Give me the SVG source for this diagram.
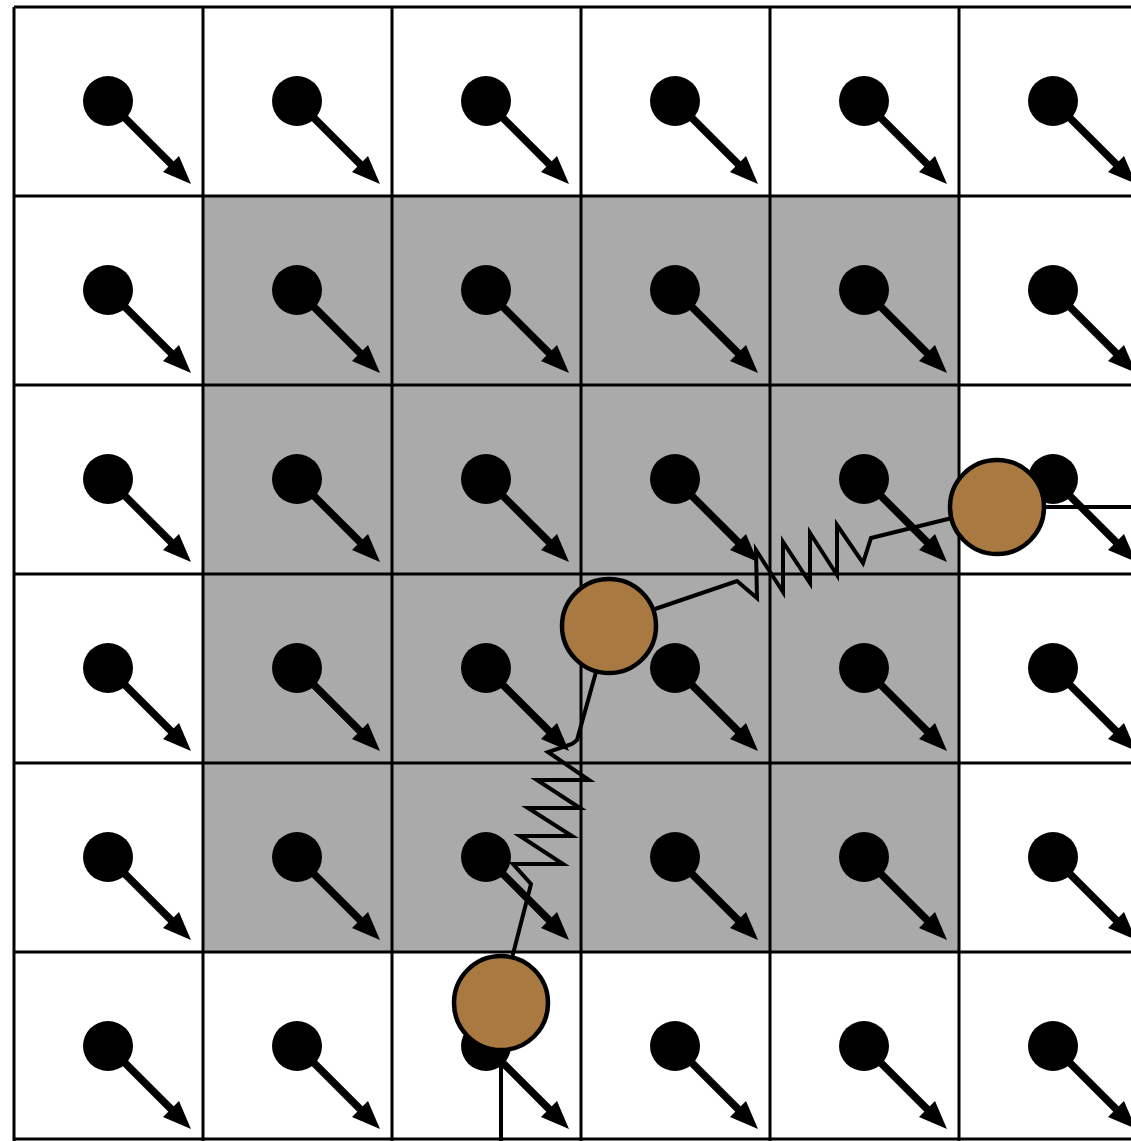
<svg xmlns="http://www.w3.org/2000/svg" xmlns:xlink="http://www.w3.org/1999/xlink" width="1131" height="1141" viewBox="0 0 1131 1141">
<style>
.grid{stroke:#000;stroke-width:3;fill:none}
.wire{stroke:#000;stroke-width:4;fill:none;stroke-linejoin:miter;stroke-miterlimit:10}
.mass{fill:#a87940;stroke:#000;stroke-width:4.5}
</style>
<defs>
<g id="spin">
<circle cx="0" cy="0" r="25" fill="#000"/>
<line x1="0" y1="0" x2="66" y2="66" stroke="#000" stroke-width="7.5"/>
<polygon points="83,83 55,71 71,55" fill="#000"/>
</g>
</defs>
<rect x="0" y="0" width="1131" height="1141" fill="#fff"/>
<rect id="region" x="203" y="196" width="756" height="756" fill="#aaaaaa"/>
<g id="grid" class="grid">
<line x1="14" y1="7" x2="1131" y2="7"/>
<line x1="14" y1="196" x2="1131" y2="196"/>
<line x1="14" y1="385" x2="1131" y2="385"/>
<line x1="14" y1="574" x2="1131" y2="574"/>
<line x1="14" y1="763" x2="1131" y2="763"/>
<line x1="14" y1="952" x2="1131" y2="952"/>
<line x1="14" y1="1139" x2="1131" y2="1139"/>
<line x1="14" y1="7" x2="14" y2="1141"/>
<line x1="203" y1="7" x2="203" y2="1141"/>
<line x1="392" y1="7" x2="392" y2="1141"/>
<line x1="581" y1="7" x2="581" y2="1141"/>
<line x1="770" y1="7" x2="770" y2="1141"/>
<line x1="959" y1="7" x2="959" y2="1141"/>
</g>
<g id="spins">
<use xlink:href="#spin" x="108" y="101"/><use xlink:href="#spin" x="297" y="101"/><use xlink:href="#spin" x="486" y="101"/><use xlink:href="#spin" x="675" y="101"/><use xlink:href="#spin" x="864" y="101"/><use xlink:href="#spin" x="1053" y="101"/>
<use xlink:href="#spin" x="108" y="290"/><use xlink:href="#spin" x="297" y="290"/><use xlink:href="#spin" x="486" y="290"/><use xlink:href="#spin" x="675" y="290"/><use xlink:href="#spin" x="864" y="290"/><use xlink:href="#spin" x="1053" y="290"/>
<use xlink:href="#spin" x="108" y="479"/><use xlink:href="#spin" x="297" y="479"/><use xlink:href="#spin" x="486" y="479"/><use xlink:href="#spin" x="675" y="479"/><use xlink:href="#spin" x="864" y="479"/><use xlink:href="#spin" x="1053" y="479"/>
<use xlink:href="#spin" x="108" y="668"/><use xlink:href="#spin" x="297" y="668"/><use xlink:href="#spin" x="486" y="668"/><use xlink:href="#spin" x="675" y="668"/><use xlink:href="#spin" x="864" y="668"/><use xlink:href="#spin" x="1053" y="668"/>
<use xlink:href="#spin" x="108" y="857"/><use xlink:href="#spin" x="297" y="857"/><use xlink:href="#spin" x="486" y="857"/><use xlink:href="#spin" x="675" y="857"/><use xlink:href="#spin" x="864" y="857"/><use xlink:href="#spin" x="1053" y="857"/>
<use xlink:href="#spin" x="108" y="1046"/><use xlink:href="#spin" x="297" y="1046"/><use xlink:href="#spin" x="486" y="1046"/><use xlink:href="#spin" x="675" y="1046"/><use xlink:href="#spin" x="864" y="1046"/><use xlink:href="#spin" x="1053" y="1046"/>
</g>
<g id="connectors">
<polyline class="wire" points="655,609 737,581 757,598 756,550 783,592 783,542 810,583 810,533 837,575 837,525 863,563 871,538 952,518"/>
<polyline class="wire" points="596,672 577,740 572,744 548,752 589,780 537,780 580,808 528,808 572,836 520,836 563,864 513,864 531,884 512,958"/>
<line class="wire" x1="1044" y1="507" x2="1131" y2="507"/>
<line class="wire" x1="501" y1="1050" x2="501" y2="1141"/>
</g>
<g id="mass1"><circle class="mass" cx="609" cy="626" r="47"/></g>
<g id="mass2"><circle class="mass" cx="997" cy="507" r="47"/></g>
<g id="mass3"><circle class="mass" cx="501" cy="1003" r="47"/></g>
</svg>
